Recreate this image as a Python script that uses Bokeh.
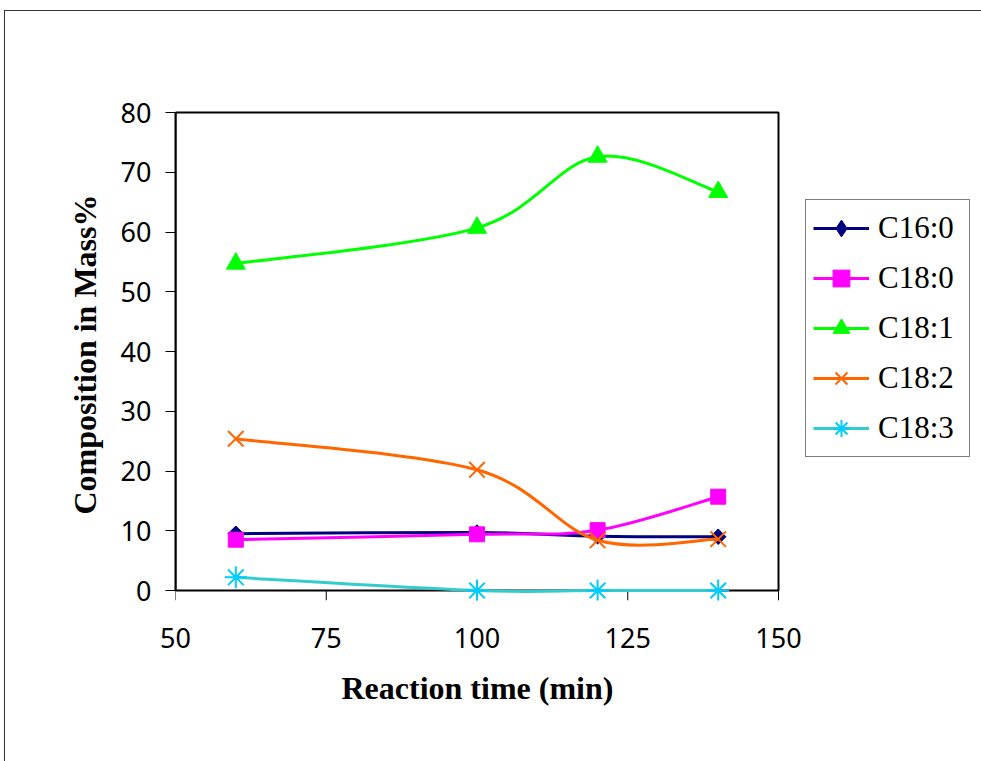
import numpy as np
from bokeh.plotting import figure
from bokeh.models import (ColumnDataSource, Legend, LegendItem, Title,
                          FixedTicker, Range1d, InlineStyleSheet)
from bokeh.embed import file_html
from bokeh.resources import INLINE

# ---- data ----
time_min = [60, 100, 120, 140]
c16_0 = [9.5, 9.7, 9.1, 9.0]
c18_0 = [8.5, 9.4, 10.1, 15.7]
c18_1 = [54.7, 60.7, 72.6, 66.7]
c18_2 = [25.4, 20.2, 8.4, 8.6]
c18_3 = [2.2, 0.0, 0.0, 0.0]

series_names = ["C16:0", "C18:0", "C18:1", "C18:2", "C18:3"]
x_ticks = [50, 75, 100, 125, 150]
y_ticks = [0, 10, 20, 30, 40, 50, 60, 70, 80]

styles = [
    dict(line="#000080", fill="#000080", marker="square", size=11, angle=np.pi / 4, lmarker="diamond", mlw=1),
    dict(line="#FF00FF", fill="#FF00FF", marker="square", size=15, angle=0.0, lmarker="square", mlw=1),
    dict(line="#00FF00", fill="#00FF00", marker="triangle", size=19, angle=0.0, lmarker="triangle", mlw=1),
    dict(line="#FF6600", fill="#FF6600", marker="x", size=22, angle=0.0, lmarker="x", mlw=2),
    dict(line="#33CCCC", fill="#00CCFF", marker="asterisk", size=22, angle=0.0, lmarker="asterisk", mlw=2),
]


def smooth_segments(xs, ys):
    """Catmull-Rom style bezier segments through the data points (Excel-like smoothing)."""
    pts = np.column_stack([xs, ys]).astype(float)
    n = len(pts)
    out = dict(x0=[], y0=[], x1=[], y1=[], cx0=[], cy0=[], cx1=[], cy1=[])
    for i in range(n - 1):
        p0 = pts[i - 1] if i > 0 else pts[i]
        p1 = pts[i]
        p2 = pts[i + 1]
        p3 = pts[i + 2] if i + 2 < n else pts[i + 1]
        c0 = p1 + (p2 - p0) / 6.0
        c1 = p2 - (p3 - p1) / 6.0
        out["x0"].append(p1[0]); out["y0"].append(p1[1])
        out["x1"].append(p2[0]); out["y1"].append(p2[1])
        out["cx0"].append(c0[0]); out["cy0"].append(c0[1])
        out["cx1"].append(c1[0]); out["cy1"].append(c1[1])
    return out


# layout: plot box 175..778 px (x) and 112..590 px (y); the frame is widened to the
# right edge (for the legend) and a little below the box (so markers at 0 are not cut).
W, H = 981, 761
box_left, box_right, box_top, box_bottom = 175, 778, 112, 590
xmin, xmax = x_ticks[0], x_ticks[-1]
ymin, ymax = y_ticks[0], y_ticks[-1]
px_x = (box_right - box_left) / (xmax - xmin)
px_y = (box_bottom - box_top) / (ymax - ymin)
top_pad, bottom_pad, tick_len = 4, 10, 10
x_end = xmax + (W - box_right) / px_x
y_start = ymin - bottom_pad / px_y
y_end = ymax + top_pad / px_y
frame_bottom = box_bottom + bottom_pad

p = figure(width=W, height=H, output_backend="svg", toolbar_location=None,
           x_range=Range1d(xmin, x_end), y_range=Range1d(y_start, y_end),
           min_border_left=box_left, min_border_right=0,
           min_border_top=box_top - top_pad, min_border_bottom=H - frame_bottom)

p.background_fill_color = "white"
p.border_fill_color = "white"
p.grid.visible = False
p.outline_line_color = None

for ax in (p.xaxis[0], p.yaxis[0]):
    ax.axis_line_color = "black"
    ax.axis_line_width = 2
    ax.major_tick_line_color = "black"
    ax.major_tick_line_width = 1
    ax.major_tick_out = 10
    ax.major_tick_in = 0
    ax.minor_tick_out = 0
    ax.minor_tick_in = 0
    ax.major_label_text_font = "Noto Sans"
    ax.major_label_text_font_size = "27px"
    ax.major_label_text_color = "black"
    ax.axis_label_text_font = "Liberation Serif"
    ax.axis_label_text_font_style = "bold"
    ax.axis_label_text_font_size = "32px"
    ax.axis_label_text_color = "black"

xa, ya = p.xaxis[0], p.yaxis[0]
xa.ticker = FixedTicker(ticks=x_ticks)
ya.ticker = FixedTicker(ticks=y_ticks)
ya.bounds = (ymin, ymax)
xa.axis_line_color = None
xa.major_tick_out = 0
xa.major_label_standoff = 27
ya.major_label_standoff = 14
ya.axis_label = "Composition in Mass%"
ya.axis_label_standoff = 15

# x-axis title, centred under the plot box (text starts at x = 341 px)
p.add_layout(Title(text="Reaction time (min)", align="left", offset=341 - box_left,
                   text_font="Liberation Serif", text_font_style="bold",
                   text_font_size="32px", text_color="black", standoff=34), "below")

# plot-area box (incl. the x axis line) and x tick marks
p.quad(left=[xmin], right=[xmax], bottom=[ymin], top=[ymax],
       fill_alpha=0, line_color="black", line_width=2)
p.segment(x0=x_ticks, x1=x_ticks, y0=[ymin] * len(x_ticks),
          y1=[ymin - tick_len / px_y] * len(x_ticks), line_color="black", line_width=1)

all_series = [c16_0, c18_0, c18_1, c18_2, c18_3]
items = []
for name, vals, st in zip(series_names, all_series, styles):
    seg = ColumnDataSource(smooth_segments(time_min, vals))
    p.bezier(x0="x0", y0="y0", x1="x1", y1="y1", cx0="cx0", cy0="cy0",
             cx1="cx1", cy1="cy1", source=seg, line_color=st["line"], line_width=3)
    pts = ColumnDataSource(dict(x=time_min, y=vals))
    p.scatter(x="x", y="y", source=pts, marker=st["marker"], size=st["size"],
              angle=st["angle"], fill_color=st["fill"], line_color=st["fill"],
              line_width=st["mlw"])
    # legend-only renderers (nothing drawn in the plot area)
    lr = p.line(x=[np.nan], y=[np.nan], line_color=st["line"], line_width=3)
    lm = p.scatter(x=[np.nan], y=[np.nan], marker=st["lmarker"], size=st["size"],
                   fill_color=st["fill"], line_color=st["fill"], line_width=st["mlw"])
    items.append(LegendItem(label=name, renderers=[lr, lm]))

legend = Legend(items=items, location=(805 - box_left, frame_bottom - 457))
legend.label_text_font = "Liberation Serif"
legend.label_text_font_size = "31px"
legend.label_text_color = "black"
legend.glyph_width = 56
legend.glyph_height = 42
legend.label_height = 42
legend.label_width = 84
legend.label_standoff = 9
legend.spacing = 8
legend.padding = 7
legend.margin = 0
legend.border_line_color = "black"
legend.border_line_width = 1
legend.background_fill_color = "white"
legend.background_fill_alpha = 1.0
p.add_layout(legend)

# outer chart-area border (left and top edges visible, as in the reference)
p.stylesheets = [InlineStyleSheet(css="""
:host { position: relative; overflow: hidden; }
:host::after {
  content: ""; position: absolute; left: 4px; top: 10px; right: -20px; bottom: -20px;
  border: 1px solid #333333; pointer-events: none; z-index: 10;
}
""")]

open("out.html", "w").write(file_html(p, INLINE))
